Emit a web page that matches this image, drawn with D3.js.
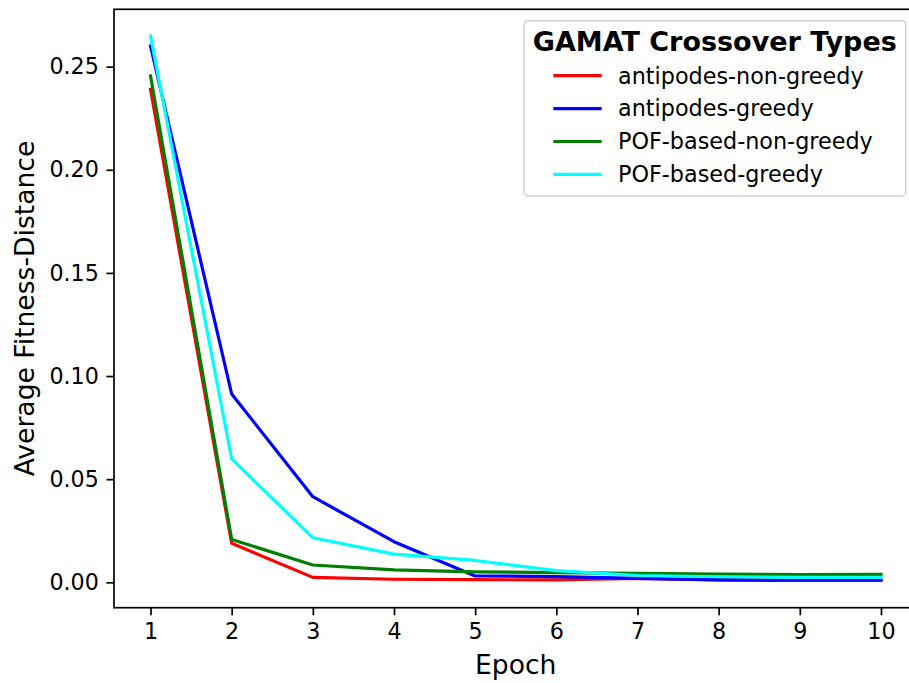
<!DOCTYPE html>
<html>
<head>
<meta charset="utf-8">
<script src="https://cdn.jsdelivr.net/npm/d3@7"></script>
<style>
  html, body { margin: 0; padding: 0; background: #fff; }
  svg { display: block; font-family: "DejaVu Sans", sans-serif; }
</style>
</head>
<body>
<div id="chart"></div>
<script>
const epochs = [1, 2, 3, 4, 5, 6, 7, 8, 9, 10];
const seriesNames = ["antipodes-non-greedy", "antipodes-greedy", "POF-based-non-greedy", "POF-based-greedy"];
const seriesColors = ["#ff0000", "#0000ff", "#008000", "#00ffff"];
const antipodesNonGreedy = [0.239, 0.0189, 0.0024, 0.0015, 0.0013, 0.0012, 0.0019, 0.0012, 0.0010, 0.0010];
const antipodesGreedy    = [0.260, 0.0913, 0.0415, 0.0197, 0.0031, 0.0028, 0.0019, 0.0012, 0.0010, 0.0010];
const pofNonGreedy       = [0.2455, 0.0208, 0.0084, 0.0060, 0.0051, 0.0047, 0.0043, 0.0040, 0.0038, 0.0039];
const pofGreedy          = [0.2649, 0.0598, 0.0216, 0.0137, 0.0106, 0.0057, 0.0033, 0.0027, 0.0024, 0.0024];
const yTicks = [0.00, 0.05, 0.10, 0.15, 0.20, 0.25];
const legendTitle = "GAMAT Crossover Types";
const xLabel = "Epoch";
const yLabel = "Average Fitness-Distance";

const allSeries = [antipodesNonGreedy, antipodesGreedy, pofNonGreedy, pofGreedy];

const W = 909, H = 683;
const plot = { left: 114, top: 9.3, right: 917.5, bottom: 607.7 };

const svg = d3.select("#chart").append("svg").attr("width", W).attr("height", H);

const x = d3.scaleLinear().domain([0.55, 10.45]).range([plot.left, plot.right]);
const y = d3.scaleLinear().domain([-0.0123, 0.2778]).range([plot.bottom, plot.top]);

const clip = svg.append("clipPath").attr("id", "clip").append("rect")
  .attr("x", plot.left).attr("y", plot.top)
  .attr("width", plot.right - plot.left).attr("height", plot.bottom - plot.top);

const line = d3.line().x((d, i) => x(epochs[i])).y(d => y(d));
const g = svg.append("g").attr("clip-path", "url(#clip)");
allSeries.forEach((s, k) => {
  g.append("path").datum(s)
    .attr("d", line)
    .attr("fill", "none")
    .attr("stroke", seriesColors[k])
    .attr("stroke-width", 3.2)
    .attr("stroke-linejoin", "round")
    .attr("stroke-linecap", "square");
});

const tickLen = 7.6, tickPad = 7.6, fs = 22.2;
const xAxis = d3.axisBottom(x).tickValues(epochs).tickFormat(d3.format("d"))
  .tickSizeInner(tickLen).tickSizeOuter(0).tickPadding(tickPad);
const yAxis = d3.axisLeft(y).tickValues(yTicks).tickFormat(d3.format(".2f"))
  .tickSizeInner(tickLen).tickSizeOuter(0).tickPadding(tickPad);

const gx = svg.append("g").attr("transform", `translate(0,${plot.bottom})`).call(xAxis);
const gy = svg.append("g").attr("transform", `translate(${plot.left},0)`).call(yAxis);
[gx, gy].forEach(a => {
  a.select(".domain").remove();
  a.selectAll(".tick line").attr("stroke", "#000").attr("stroke-width", 1.7);
  a.selectAll(".tick text").attr("fill", "#000").style("font-size", fs + "px")
    .style("font-family", "'DejaVu Sans', sans-serif");
});
gx.selectAll(".tick text").attr("dy", "0.74em");

svg.append("rect")
  .attr("x", plot.left).attr("y", plot.top)
  .attr("width", plot.right - plot.left).attr("height", plot.bottom - plot.top)
  .attr("fill", "none").attr("stroke", "#000").attr("stroke-width", 1.7);

svg.append("text").attr("x", (plot.left + plot.right) / 2).attr("y", 674)
  .attr("text-anchor", "middle").style("font-size", "26.6px").text(xLabel);
svg.append("text")
  .attr("transform", `translate(34,${(plot.top + plot.bottom) / 2}) rotate(-90)`)
  .attr("text-anchor", "middle").style("font-size", "26.6px").text(yLabel);

const lg = svg.append("g");
lg.append("rect").attr("x", 524).attr("y", 20.7).attr("width", 381.7).attr("height", 175.3)
  .attr("rx", 4).attr("fill", "#fff").attr("fill-opacity", 0.8)
  .attr("stroke", "#d0d0d0").attr("stroke-width", 1.5);
lg.append("text").attr("x", 714.8).attr("y", 50.5)
  .attr("text-anchor", "middle").style("font-size", "27px").style("font-weight", "bold")
  .text(legendTitle);
seriesNames.forEach((name, k) => {
  const ly = 75.7 + k * 32.9;
  lg.append("line").attr("x1", 553.3).attr("x2", 601.7).attr("y1", ly).attr("y2", ly)
    .attr("stroke", seriesColors[k]).attr("stroke-width", 3.2);
  lg.append("text").attr("x", 618).attr("y", ly + 7.8)
    .style("font-size", "22.3px").text(name);
});
</script>
</body>
</html>
